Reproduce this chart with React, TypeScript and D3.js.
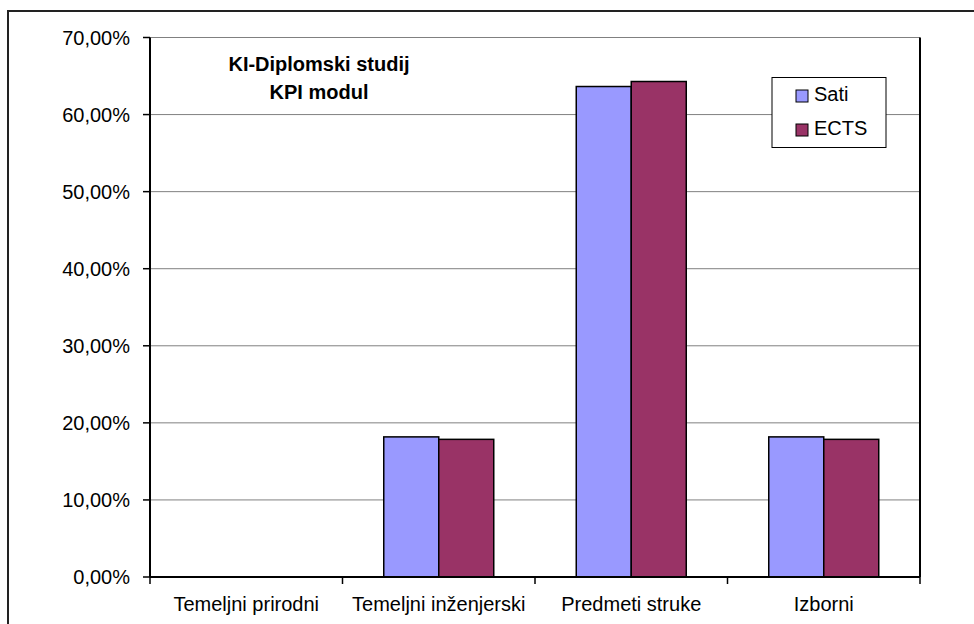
import React from "react";
import * as d3 from "d3";

const categories = ["Temeljni prirodni", "Temeljni inženjerski", "Predmeti struke", "Izborni"];
const seriesNames = ["Sati", "ECTS"];
const satiValues = [0, 0.1818, 0.6364, 0.1818];
const ectsValues = [0, 0.1786, 0.6429, 0.1786];
const yTicks = [0, 0.1, 0.2, 0.3, 0.4, 0.5, 0.6, 0.7];
const titleLines = ["KI-Diplomski studij", "KPI modul"];
const colors = ["#9999FF", "#993366"];

const W = 974;
const H = 624;
const left = 150;
const right = 920;
const top = 37.5;
const bottom = 577;
const FONT = "Arial, 'Liberation Sans', sans-serif";

export default function App() {
  const x = d3.scaleBand<string>().domain(categories).range([left, right]).padding(0);
  const y = d3.scaleLinear().domain([0, 0.7]).range([bottom, top]);
  const bw = x.bandwidth() / 3.5;
  const series = [satiValues, ectsValues];
  const fmt = (v: number) => (v * 100).toFixed(2).replace(".", ",") + "%";

  return (
    <svg
      width={W}
      height={H}
      style={{ position: "absolute", left: 0, top: 0, background: "#fff" }}
      fontFamily={FONT}
    >
      <rect x={8} y={11} width={1000} height={700} fill="#fff" stroke="#222" strokeWidth={2} />
      {/* gridlines */}
      {yTicks.map((t) => (
        <line key={"g" + t} x1={left} x2={right} y1={y(t)} y2={y(t)} stroke="#808080" strokeWidth={1} />
      ))}
      {/* right border */}
      <line x1={right} x2={right} y1={top} y2={bottom} stroke="#000" strokeWidth={2} />
      {/* bars */}
      {categories.map((c, i) => {
        const cx = (x(c) as number) + x.bandwidth() / 2;
        return series.map((s, j) => {
          const v = s[i];
          if (v <= 0) return null;
          const bx = cx - bw + j * bw;
          return (
            <rect
              key={c + j}
              x={bx}
              y={y(v)}
              width={bw}
              height={y(0) - y(v)}
              fill={colors[j]}
              stroke="#000"
              strokeWidth={1.5}
            />
          );
        });
      })}
      {/* axes */}
      <line x1={left} x2={left} y1={top} y2={bottom} stroke="#000" strokeWidth={2} />
      <line x1={left} x2={right} y1={bottom} y2={bottom} stroke="#000" strokeWidth={2} />
      {yTicks.map((t) => (
        <g key={"t" + t}>
          <line x1={left - 7} x2={left} y1={y(t)} y2={y(t)} stroke="#000" strokeWidth={1.5} />
          <text x={130} y={y(t)} dy="0.36em" textAnchor="end" fontSize={20} fill="#000">
            {fmt(t)}
          </text>
        </g>
      ))}
      {[...categories.map((c) => x(c) as number), right].map((px, i) => (
        <line key={"xt" + i} x1={px} x2={px} y1={bottom} y2={bottom + 7} stroke="#000" strokeWidth={1.5} />
      ))}
      {categories.map((c) => (
        <text
          key={"xl" + c}
          x={(x(c) as number) + x.bandwidth() / 2}
          y={611}
          textAnchor="middle"
          fontSize={20}
          fill="#000"
        >
          {c}
        </text>
      ))}
      {/* title */}
      {titleLines.map((t, i) => (
        <text key={t} x={319} y={70.5 + i * 28} textAnchor="middle" fontSize={20} fontWeight="bold" fill="#000">
          {t}
        </text>
      ))}
      {/* legend */}
      <rect x={772} y={77.5} width={114} height={70} fill="#fff" stroke="#000" strokeWidth={1} />
      {seriesNames.map((n, i) => (
        <g key={n}>
          <rect x={796} y={90 + i * 34} width={12} height={12} fill={colors[i]} stroke="#000" strokeWidth={1} />
          <text x={814} y={101 + i * 34} fontSize={20} fill="#000">
            {n}
          </text>
        </g>
      ))}
    </svg>
  );
}
